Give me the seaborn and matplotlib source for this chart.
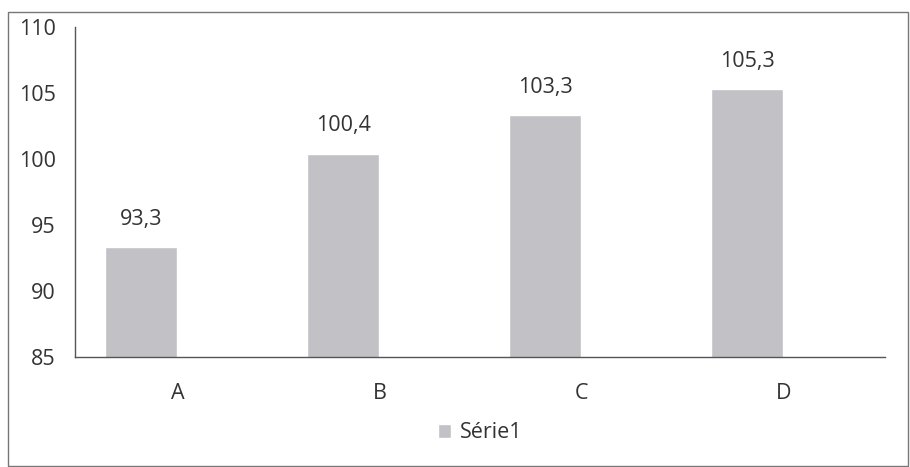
import matplotlib
matplotlib.use("Agg")
import matplotlib.pyplot as plt
import seaborn as sns
import pandas as pd
from matplotlib.patches import Rectangle

categories = ["A", "B", "C", "D"]
values = [93.3, 100.4, 103.3, 105.3]
value_labels = ["93,3", "100,4", "103,3", "105,3"]
yticks = [85, 90, 95, 100, 105, 110]
series_name = "Série1"

sns.set_theme(style="white")
plt.rcParams['font.family'] = ['Open Sans', 'DejaVu Sans']

df = pd.DataFrame({"cat": categories, "val": values})

fig = plt.figure(figsize=(9.1, 4.67), dpi=100)
ax = fig.add_axes([75/910, 1-357/467, 810/910, 330/467])

bar_color = "#c2c2c6"
sns.barplot(data=df, x="cat", y="val", color=bar_color, width=0.356, ax=ax,
            label=series_name, saturation=1)

fs = 15.5
ax.set_ylim(85, 110)
ax.set_xlim(-0.327, 3.683)
ax.set_yticks(yticks)
ax.set_yticklabels([str(t) for t in yticks], fontsize=fs, color="#333333")
ax.set_xticks([i + 0.18 for i in range(len(categories))])
ax.set_xticklabels(categories, fontsize=fs, color="#333333")
ax.tick_params(axis="y", length=0, pad=14)
ax.tick_params(axis="x", length=0, pad=19)
ax.set_xlabel("")
ax.set_ylabel("")

for s in ["top", "right"]:
    ax.spines[s].set_visible(False)
for s in ["left", "bottom"]:
    ax.spines[s].set_color("#555555")
    ax.spines[s].set_linewidth(1.0)

for i, (v, lab) in enumerate(zip(values, value_labels)):
    ax.annotate(lab, (i, v), xytext=(0, 12.5), textcoords="offset points",
                ha="center", va="bottom", fontsize=fs, color="#333333")

leg = ax.legend(loc="center", bbox_to_anchor=(480/910, 1-433/467),
                bbox_transform=fig.transFigure, frameon=False, fontsize=fs,
                handlelength=0.6, handleheight=0.6, handletextpad=0.4)
for t in leg.get_texts():
    t.set_color("#333333")

fig.patches.append(Rectangle((8/910, 1-466/467), 900/910, (466-12)/467,
                             transform=fig.transFigure, fill=False,
                             edgecolor="#777777", linewidth=1.0))

fig.savefig("out.png", dpi=100)
